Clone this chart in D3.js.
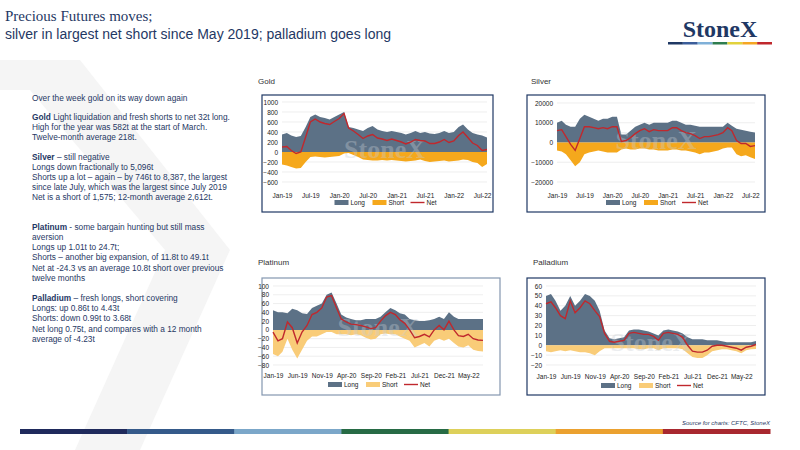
<!DOCTYPE html>
<html><head><meta charset="utf-8">
<script src="https://cdn.jsdelivr.net/npm/d3@7"></script>
<style>body{margin:0;background:#fff}svg{display:block}</style>
</head><body><div id="slide"></div>
<script>
// monthly estimates, Jan-19 .. Aug-22
const goldLong = [350,380,330,300,320,500,700,750,700,680,650,700,750,800,500,480,450,420,480,520,450,420,400,420,400,380,350,380,420,380,400,370,360,380,420,380,400,500,550,450,380,350,330,290];
const goldShort = [-250,-270,-300,-330,-320,-200,-100,-90,-100,-110,-100,-90,-80,-30,-20,-60,-100,-150,-160,-170,-170,-160,-170,-160,-170,-180,-190,-180,-170,-150,-180,-200,-190,-180,-170,-190,-180,-170,-150,-160,-200,-220,-300,-240];
const goldNet = [100,110,30,-30,0,300,600,660,600,570,550,610,670,770,480,420,350,270,320,350,280,260,230,260,230,200,160,200,250,230,220,170,170,200,250,190,220,330,400,290,180,130,30,50];
const silverLong = [10000,11000,9000,8000,8000,12000,14000,13000,12000,11000,12000,12000,13000,13000,4000,4000,6000,8000,9000,10000,9000,10000,10000,10000,10000,11000,11000,10000,9000,9000,8500,8000,8000,8000,8000,8000,8000,10000,8500,7000,6500,6000,5500,5100];
const silverShort = [-4000,-4500,-6000,-9000,-12000,-10000,-6000,-5000,-4500,-4000,-4500,-5000,-5000,-5000,-3500,-3000,-3500,-3500,-3000,-3000,-3500,-3500,-4000,-4000,-4000,-3500,-3500,-4000,-4000,-4500,-5000,-6000,-5000,-5000,-4500,-4000,-3000,-2500,-2500,-6000,-7000,-6500,-7500,-8400];
const silverNet = [6000,6500,3000,-1000,-4000,2000,8000,8000,7500,7000,7500,7000,8000,8000,500,1000,2500,4500,6000,7000,5500,6500,6000,6000,6000,7500,7500,6000,5000,4500,3500,2000,3000,3000,3500,4000,5000,7500,6000,1000,-500,-500,-2000,-1600];
const platLong = [45,40,40,38,48,45,38,36,50,55,60,80,85,60,35,28,25,22,22,25,25,25,30,40,50,45,38,35,25,22,20,20,22,25,30,25,40,30,25,25,25,25,25,25];
const platShort = [-55,-60,-50,-20,-45,-65,-45,-25,-15,-15,-10,-5,-5,-10,-10,-10,-12,-10,-12,-18,-22,-20,-10,-8,-10,-10,-15,-20,-25,-40,-35,-30,-38,-25,-20,-25,-20,-30,-38,-40,-35,-45,-48,-49];
const platNet = [-5,-25,-20,18,5,-30,-5,10,35,40,50,75,78,50,25,18,13,12,10,7,3,5,20,32,40,35,23,15,0,-18,-15,-10,-16,0,10,0,20,0,-13,-15,-10,-20,-23,-24];
const palLong = [50,52,45,35,40,50,40,45,52,50,45,35,15,7,6,7,8,15,16,16,15,14,12,10,15,16,15,14,12,8,6,6,6,5,5,5,4,3,3,3,3,3,3,4.4];
const palShort = [-6,-7,-6,-5,-6,-5,-6,-7,-7,-8,-10,-6,-3,-3,-3,-3,-3,-3,-3,-4,-4,-3,-3,-5,-3,-3,-3,-3,-4,-8,-12,-13,-13,-10,-6,-5,-4,-4,-5,-6,-8,-5,-4,-3.7];
const palNet = [42,44,38,30,27,45,33,38,45,42,35,29,12,4,3,4,5,12,13,12,11,11,9,5,12,13,12,11,8,0,-6,-7,-7,-5,-1,0,0,-1,-2,-3,-5,-2,-1,0.75];

const months = d3.timeMonth.range(new Date(2019,0,1), new Date(2022,7,2));
const ticks6 = ["Jan-19","Jul-19","Jan-20","Jul-20","Jan-21","Jul-21","Jan-22","Jul-22"];
const ticks5 = ["Jan-19","Jun-19","Nov-19","Apr-20","Sep-20","Feb-21","Jul-21","Dec-21","May-22"];
const parseTick = d3.timeParse("%b-%y");

const navy = "#1f3864";
const W = 800, H = 450;
const svg = d3.select("#slide").append("svg").attr("width", W).attr("height", H)
  .style("font-family", "Liberation Sans, Arial, sans-serif");

// faint background chevron
svg.append("path").attr("d", "M0,60 L80,60 L230,250 L140,450 L75,450 L165,250 L30,90 L0,90 Z").attr("fill", "#f5f5f5");

// title
svg.append("text").attr("x", 5).attr("y", 21).attr("fill", navy)
  .style("font-family", "Liberation Serif, Times New Roman, serif").style("font-size", "15px")
  .text("Precious Futures moves;");
svg.append("text").attr("x", 5).attr("y", 39).attr("fill", navy).style("font-size", "14px")
  .text("silver in largest net short since May 2019; palladium goes long");

// logo
svg.append("text").attr("x", 720).attr("y", 37).attr("text-anchor", "middle").attr("fill", navy)
  .style("font-family", "Liberation Serif, Times New Roman, serif").style("font-size", "24px").style("font-weight", "bold")
  .text("StoneX");
const logoCols = ["#1f3864","#3b5d9a","#7fb0d8","#2e7d4f","#e2d23c","#f5a623","#c0282d"];
const lx = d3.scaleBand().domain(d3.range(7)).range([668, 772]);
svg.selectAll(".lg").data(logoCols).join("rect").attr("x", (d, i) => lx(i)).attr("y", 42)
  .attr("width", lx.bandwidth()).attr("height", 2.5).attr("fill", d => d);

// body text
const lines = [
  [101, [["", "Over the week gold on its way down again"]]],
  [120, [["b", "Gold"], ["", " Light liquidation and fresh shorts to net 32t long."]]],
  [130, [["", "High for the year was 582t at the start of March."]]],
  [140, [["", "Twelve-month  average 218t."]]],
  [160, [["b", "Silver"], ["", " – still negative"]]],
  [170, [["", "Longs down fractionally to 5,096t"]]],
  [180, [["", "Shorts up a lot – again – by 746t to 8,387, the largest"]]],
  [190, [["", "since late July, which was the largest since July 2019"]]],
  [200, [["", "Net is a short of 1,575; 12-month average 2,612t."]]],
  [230, [["b", "Platinum"], ["", "  - some bargain hunting but still mass"]]],
  [240, [["", "aversion"]]],
  [250, [["", "Longs up 1.01t to 24.7t;"]]],
  [260, [["", "Shorts – another big expansion, of 11.8t to 49.1t"]]],
  [271, [["", "Net at -24.3 vs an average 10.8t short over previous"]]],
  [281, [["", "twelve  months"]]],
  [301, [["b", "Palladium"], ["", "  – fresh longs, short covering"]]],
  [311, [["", "Longs: up 0.86t to 4.43t"]]],
  [321, [["", "Shorts: down 0.99t to 3.68t"]]],
  [332, [["", "Net long 0.75t, and compares with a 12 month"]]],
  [342, [["", "average of -4.23t"]]]
];
lines.forEach(([y, parts]) => {
  const t = svg.append("text").attr("x", 32).attr("y", y).attr("fill", navy).style("font-size", "8.3px");
  parts.forEach(([w, s]) => t.append("tspan").style("font-weight", w ? "bold" : "normal").text(s));
});

// footer
svg.append("text").attr("x", 770).attr("y", 425).attr("text-anchor", "end").attr("fill", navy)
  .style("font-size", "6px").style("font-style", "italic").text("Source for charts: CFTC, StoneX");
const fx = d3.scaleBand().domain(d3.range(7)).range([20, 770]);
const footCols = ["#1f2a5c","#355a8a","#7ba7c9","#276b45","#ddd05a","#eba12f","#a8282f"];
svg.selectAll(".ft").data(footCols).join("rect").attr("x", (d, i) => fx(i)).attr("y", 429)
  .attr("width", fx.bandwidth() + 0.5).attr("height", 5).attr("fill", d => d);

function panel(o) {
  svg.append("text").attr("x", o.tx).attr("y", o.ty).attr("fill", "#333").style("font-size", "8px").text(o.title);
  svg.append("rect").attr("x", o.box[0]).attr("y", o.box[1]).attr("width", o.box[2]).attr("height", o.box[3])
    .attr("fill", "#fff").attr("stroke", o.border).attr("stroke-width", 1.2);
  const x = d3.scaleTime().domain([months[0], months[months.length - 1]]).range([o.x0, o.x1]);
  const y = d3.scaleLinear().domain(o.dom).range([o.y1, o.y0]);
  const g = svg.append("g");
  const yt = d3.range(o.dom[0], o.dom[1] + o.step / 2, o.step);
  g.selectAll(".gr").data(yt).join("line").attr("x1", o.x0).attr("x2", o.x1)
    .attr("y1", d => y(d)).attr("y2", d => y(d)).attr("stroke", "#e3e3e3").attr("stroke-width", 0.6);
  const area = vals => d3.area().x((d, i) => x(months[i])).y0(y(0)).y1(d => y(d))(vals);
  g.append("path").attr("d", area(o.long)).attr("fill", "#5c7186");
  g.append("path").attr("d", area(o.short)).attr("fill", o.shortCol);
  g.append("text").attr("x", (o.x0 + o.x1) / 2).attr("y", y(0) + 6).attr("text-anchor", "middle")
    .attr("fill", "#c8cdd4").attr("opacity", 0.35).style("font-family", "Liberation Serif, serif")
    .style("font-size", "26px").style("font-weight", "bold").text("StoneX");
  g.append("path").attr("d", d3.line().x((d, i) => x(months[i])).y(d => y(d))(o.net))
    .attr("fill", "none").attr("stroke", "#c0282d").attr("stroke-width", 1.4);
  const ya = g.append("g").attr("transform", `translate(${o.x0 - 1},0)`)
    .call(d3.axisLeft(y).tickValues(yt).tickSize(0).tickPadding(3).tickFormat(d3.format("d")));
  ya.select(".domain").remove();
  ya.selectAll("text").style("font-size", "6.5px").attr("fill", "#222");
  const xa = g.append("g").attr("transform", `translate(0,${o.xl})`)
    .call(d3.axisBottom(x).tickValues(o.xt.map(parseTick)).tickSize(0).tickFormat(d3.timeFormat("%b-%y")));
  xa.select(".domain").remove();
  xa.selectAll("text").style("font-size", "6.5px").attr("fill", "#222");
  const lg = [["Long", "#5c7186", "a"], ["Short", o.shortCol, "a"], ["Net", "#c0282d", "l"]];
  const cx = (o.x0 + o.x1) / 2 - 50;
  lg.forEach(([n, c, k], i) => {
    const lx0 = cx + i * 38;
    if (k === "a") g.append("rect").attr("x", lx0).attr("y", o.ly - 3).attr("width", 14).attr("height", 5).attr("fill", c);
    else g.append("line").attr("x1", lx0).attr("x2", lx0 + 14).attr("y1", o.ly - 0.5).attr("y2", o.ly - 0.5).attr("stroke", c).attr("stroke-width", 1.4);
    g.append("text").attr("x", lx0 + 16).attr("y", o.ly + 2).attr("fill", "#222").style("font-size", "6.5px").text(n);
  });
}

panel({title: "Gold", tx: 258, ty: 84, box: [262, 95, 231, 117], border: navy,
  x0: 282, x1: 487, y0: 102, y1: 182, dom: [-600, 1000], step: 200, xt: ticks6, xl: 190, ly: 203,
  long: goldLong, short: goldShort, net: goldNet, shortCol: "#f5a81c"});
panel({title: "Silver", tx: 531, ty: 84, box: [527, 95, 238, 117], border: navy,
  x0: 557, x1: 755, y0: 103, y1: 182, dom: [-20000, 20000], step: 10000, xt: ticks6, xl: 190, ly: 203,
  long: silverLong, short: silverShort, net: silverNet, shortCol: "#f5a81c"});
panel({title: "Platinum", tx: 258, ty: 265, box: [262, 278, 238, 117], border: "#8497b0",
  x0: 273, x1: 483, y0: 286, y1: 365, dom: [-80, 100], step: 20, xt: ticks5, xl: 370, ly: 385,
  long: platLong, short: platShort, net: platNet, shortCol: "#f9cc78"});
panel({title: "Palladium", tx: 533, ty: 265, box: [527, 278, 238, 117], border: navy,
  x0: 546, x1: 756, y0: 286, y1: 365, dom: [-20, 60], step: 10, xt: ticks5, xl: 371, ly: 386,
  long: palLong, short: palShort, net: palNet, shortCol: "#f9cc78"});
</script></body></html>
